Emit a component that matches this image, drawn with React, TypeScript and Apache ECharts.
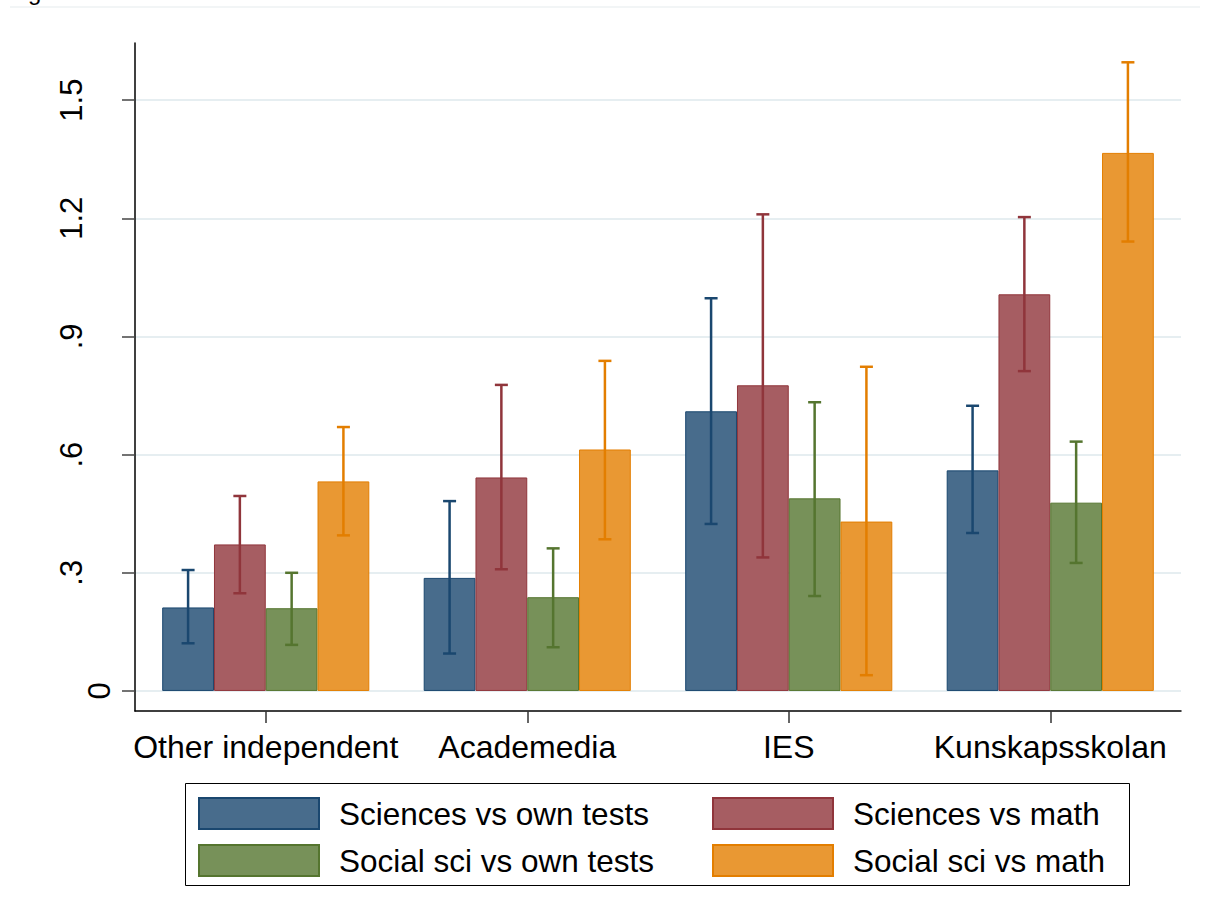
import React, { useEffect, useRef } from 'react';
import * as echarts from 'echarts';

const categories = ['Other independent', 'Academedia', 'IES', 'Kunskapsskolan'];
const seriesNames = ['Sciences vs own tests', 'Sciences vs math', 'Social sci vs own tests', 'Social sci vs math'];

const sciOwn = [0.212, 0.287, 0.710, 0.560];
const sciOwnLo = [0.121, 0.095, 0.424, 0.401];
const sciOwnHi = [0.307, 0.482, 0.997, 0.724];

const sciMath = [0.372, 0.542, 0.776, 1.007];
const sciMathLo = [0.248, 0.309, 0.339, 0.812];
const sciMathHi = [0.495, 0.777, 1.210, 1.203];

const socOwn = [0.210, 0.238, 0.489, 0.478];
const socOwnLo = [0.117, 0.111, 0.241, 0.325];
const socOwnHi = [0.300, 0.362, 0.733, 0.633];

const socMath = [0.532, 0.613, 0.430, 1.366];
const socMathLo = [0.395, 0.385, 0.040, 1.141];
const socMathHi = [0.670, 0.838, 0.823, 1.596];

const yTickValues = [0, 0.3, 0.6, 0.9, 1.2, 1.5];
const yTickLabels = ['0', '.3', '.6', '.9', '1.2', '1.5'];

const FONT = '"Liberation Sans", Arial, Helvetica, sans-serif';
const fills = ['#486c8c', '#a65d62', '#779159', '#e99833'];
const lines = ['#1a476f', '#90353b', '#55752f', '#e37e00'];

export default function App() {
  const ref = useRef<HTMLDivElement>(null);
  useEffect(() => {
    if (!ref.current) return;
    const chart = echarts.init(ref.current, undefined, { renderer: 'svg' });
    const values = [sciOwn, sciMath, socOwn, socMath];
    const lows = [sciOwnLo, sciMathLo, socOwnLo, socMathLo];
    const highs = [sciOwnHi, sciMathHi, socOwnHi, socMathHi];
    const catGap = 0.208;
    const n = 4;

    const barSeries = values.map((vals, i) => ({
      name: seriesNames[i],
      type: 'bar',
      data: vals,
      barGap: '0%',
      barCategoryGap: '20.8%',
      itemStyle: { color: fills[i], borderColor: lines[i], borderWidth: 1 },
      z: 2,
    }));

    const errSeries = values.map((_, i) => ({
      name: seriesNames[i] + ' CI',
      type: 'custom',
      z: 5,
      data: categories.map((_, c) => [c, lows[i][c], highs[i][c]]),
      renderItem: (params: any, api: any) => {
        const cat = api.value(0);
        const lo = api.coord([cat, api.value(1)]);
        const hi = api.coord([cat, api.value(2)]);
        const band = api.size([1, 0])[0];
        const bw = (band * (1 - catGap)) / n;
        const x = lo[0] + (i - (n - 1) / 2) * bw;
        const cap = 6.5;
        const style = { stroke: lines[i], lineWidth: 2.5, fill: 'none' };
        return {
          type: 'group',
          children: [
            { type: 'line', shape: { x1: x, y1: lo[1], x2: x, y2: hi[1] }, style },
            { type: 'line', shape: { x1: x - cap, y1: hi[1], x2: x + cap, y2: hi[1] }, style },
            { type: 'line', shape: { x1: x - cap, y1: lo[1], x2: x + cap, y2: lo[1] }, style },
          ],
        };
      },
    }));

    const legendCommon = {
      orient: 'vertical',
      top: 797,
      padding: 0,
      itemWidth: 120,
      itemHeight: 31,
      itemGap: 14,
      icon: 'rect',
      selectedMode: false,
      textStyle: { fontSize: 31.5, fontFamily: FONT, color: '#000', padding: [0, 0, 0, 15], lineHeight: 31 },
    };

    chart.setOption({
      animation: false,
      backgroundColor: '#fff',
      grid: { left: 135, top: 43, width: 1046, height: 668, containLabel: false },
      xAxis: {
        type: 'category',
        data: categories,
        boundaryGap: true,
        axisLine: { show: true, onZero: false, lineStyle: { color: '#000', width: 1.5 } },
        axisTick: { show: true, alignWithLabel: true, length: 12, lineStyle: { color: '#333', width: 1.5 } },
        axisLabel: { interval: 0, hideOverlap: false, fontSize: 32, fontFamily: FONT, color: '#000', margin: 20 },
        splitLine: { show: false },
      },
      yAxis: {
        type: 'value',
        min: -0.0509,
        max: 1.645,
        axisLine: { show: true, lineStyle: { color: '#000', width: 1.5 } },
        axisTick: { show: true, length: 13, customValues: yTickValues, lineStyle: { color: '#444', width: 1.5 } },
        axisLabel: {
          customValues: yTickValues,
          rotate: 90,
          margin: 20,
          fontSize: 31,
          fontFamily: FONT,
          color: '#000',
          formatter: (v: number) => {
            let idx = 0;
            yTickValues.forEach((t, k) => { if (Math.abs(t - v) < 1e-6) idx = k; });
            return Math.abs(v) < 1e-6 ? '{z|' + yTickLabels[idx] + '}' : '{n|' + yTickLabels[idx] + '}';
          },
          rich: {
            z: { fontSize: 31, fontFamily: FONT, color: '#000' },
            n: { fontSize: 31, fontFamily: FONT, color: '#000', padding: [0, 0, 28, 0] },
          },
        },
        splitLine: { show: true, lineStyle: { color: '#e6eef1', width: 2 } },
      },
      legend: [
        { ...legendCommon, left: 198, data: [seriesNames[0], seriesNames[2]] },
        { ...legendCommon, left: 712, data: [seriesNames[1], seriesNames[3]] },
      ],
      graphic: [
        { type: 'line', shape: { x1: 10, y1: 7, x2: 1200, y2: 7 }, style: { stroke: '#eef2f3', lineWidth: 1.5 } },
        { type: 'text', x: 28, y: 3, style: { text: 'g', fontSize: 24, fontFamily: FONT, fill: '#000', textVerticalAlign: 'bottom' } },
        { type: 'rect', shape: { x: 185.5, y: 783.5, width: 944, height: 102 }, style: { fill: 'none', stroke: '#000', lineWidth: 1 } },
      ],
      series: [...barSeries, ...errSeries],
    });
    return () => chart.dispose();
  }, []);
  return (
    <div
      ref={ref}
      style={{ position: 'fixed', left: 0, top: 0, width: 1206, height: 923, background: '#fff' }}
    />
  );
}
